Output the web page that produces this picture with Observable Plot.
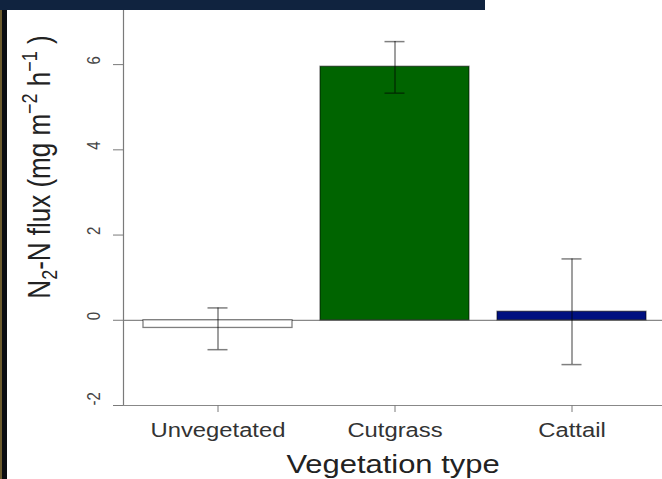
<!DOCTYPE html>
<html><head><meta charset="utf-8">
<script src="https://cdn.jsdelivr.net/npm/d3@7"></script>
<script src="https://cdn.jsdelivr.net/npm/@observablehq/plot@0.6"></script>
<style>body{margin:0;background:#fff;} #chart{width:662px;height:479px;overflow:hidden;}</style>
</head><body><div id="chart"></div>
<script>
// Data
const categories = ["Unvegetated", "Cutgrass", "Cattail"];
const flux = [-0.18, 5.95, 0.20];
const errLow = [-0.69, 5.33, -1.04];
const errHigh = [0.29, 6.54, 1.44];
const barColors = ["#ffffff", "#006400", "#001080"];
const yTicks = [-2, 0, 2, 4, 6];
const yTickLabels = ["-2", "0", "2", "4", "6"];
const yDomain = [-2, 7.27];
const xTitle = "Vegetation type";

const data = categories.map((c, i) => ({veg: c, flux: flux[i], lo: errLow[i], hi: errHigh[i]}));
const STRETCH = 1.19;

function yAxisLine(index, scales, values, dims) {
  const line = document.createElementNS("http://www.w3.org/2000/svg", "line");
  const x = dims.marginLeft + 0.5;
  line.setAttribute("x1", x); line.setAttribute("x2", x);
  line.setAttribute("y1", scales.y(yDomain[1]));
  line.setAttribute("y2", scales.y(yDomain[0]));
  line.setAttribute("stroke", "#7a7a7a");
  line.setAttribute("stroke-width", 1.2);
  return line;
}

const svg = Plot.plot({
  width: 662,
  height: 479,
  marginTop: 10,
  marginBottom: 74,
  marginLeft: 123,
  marginRight: 0,
  style: {fontFamily: "'Liberation Sans', Arial, sans-serif", background: "white", color: "#333"},
  x: {domain: categories, range: [123, 666], paddingInner: 0.16, paddingOuter: 0.11, label: null},
  y: {domain: yDomain, label: null},
  color: {domain: categories, range: barColors},
  marks: [
    Plot.ruleY([0], {stroke: "#888", strokeWidth: 1.2}),
    Plot.ruleY([-2], {stroke: "#888", strokeWidth: 1.2, insetLeft: -10}),
    yAxisLine,
    Plot.axisY({ticks: yTicks, tickSize: 10, tickFormat: () => "", stroke: "#7a7a7a", label: null}),
    Plot.text(yTicks, {y: d => d, text: (d, i) => yTickLabels[i], frameAnchor: "left", dx: -29, rotate: -90, fontSize: 15, fill: "#444"}),
    Plot.axisX({tickSize: 7, tickPadding: 10, fontSize: 20, stroke: "#7a7a7a", fill: "#333", label: null}),
    Plot.barY(data, {x: "veg", y: "flux", fill: "veg", stroke: "#000", strokeOpacity: 0.5, strokeWidth: 1.3}),
    Plot.ruleX(data, {x: "veg", y1: "lo", y2: "hi", stroke: "#000", strokeOpacity: 0.5, strokeWidth: 1.5}),
    Plot.tickY(data, {x: "veg", y: "lo", stroke: "#000", strokeOpacity: 0.5, strokeWidth: 1.5, insetLeft: 64.5, insetRight: 64.5}),
    Plot.tickY(data, {x: "veg", y: "hi", stroke: "#000", strokeOpacity: 0.5, strokeWidth: 1.5, insetLeft: 64.5, insetRight: 64.5}),
    Plot.text([xTitle], {frameAnchor: "bottom", dy: 67, fontSize: 26, fill: "#222"})
  ]
});
document.getElementById("chart").append(svg);

const root = d3.select(svg);
// y-axis title with sub/superscripts
const yl = root.append("text")
  .attr("transform", "translate(50,167) rotate(-90)")
  .attr("text-anchor", "middle")
  .attr("font-size", 26)
  .attr("fill", "#222");
yl.append("tspan").text("N");
yl.append("tspan").attr("font-size", 18).attr("dy", 6).text("2");
yl.append("tspan").attr("dy", -6).text("-N flux (mg m");
yl.append("tspan").attr("font-size", 18).attr("dy", -11).text("\u22122");
yl.append("tspan").attr("dy", 11).text(" h");
yl.append("tspan").attr("font-size", 18).attr("dy", -11).text("\u22121");
yl.append("tspan").attr("dy", 11).text(" )");

// horizontal stretch of all text (the reference is stretched sideways)
svg.querySelectorAll("text").forEach(el => {
  const c = el.transform.baseVal.consolidate();
  const M = c ? c.matrix : svg.createSVGMatrix();
  const x = parseFloat(el.getAttribute("x")) || 0, y = parseFloat(el.getAttribute("y")) || 0;
  const ax = M.a * x + M.c * y + M.e, ay = M.b * x + M.d * y + M.f;
  el.setAttribute("transform", `translate(${ax},${ay}) scale(${STRETCH},1) translate(${-ax},${-ay}) matrix(${M.a},${M.b},${M.c},${M.d},${M.e},${M.f})`);
});

// slide frame strips
root.append("rect").attr("x", 0).attr("y", 0).attr("width", 7).attr("height", 479).attr("fill", "#0a0d12");
root.append("rect").attr("x", 0).attr("y", 0).attr("width", 2).attr("height", 479).attr("fill", "#6b5b2e");
root.append("rect").attr("x", 0).attr("y", 0).attr("width", 485).attr("height", 10).attr("fill", "#10233f");
</script></body></html>
